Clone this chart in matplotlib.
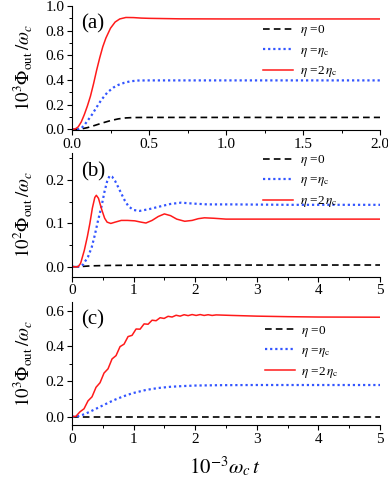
import numpy as np
import matplotlib
matplotlib.use("Agg")
import matplotlib.pyplot as plt
from matplotlib.ticker import MultipleLocator, FormatStrFormatter

plt.rcParams['font.family'] = ['Liberation Serif', 'DejaVu Serif']
plt.rcParams['mathtext.fontset'] = 'stix'

# panel (a)
t_a_black = [0, 0.05, 0.1, 0.15, 0.2, 0.25, 0.3, 0.35, 0.4, 0.5, 1.0, 2.0]
v_a_black = [0, 0.001, 0.014, 0.033, 0.053, 0.071, 0.085, 0.093, 0.096, 0.097, 0.097, 0.097]
t_a_blue = [0, 0.04, 0.06, 0.08, 0.1, 0.13, 0.16, 0.19, 0.23, 0.27, 0.3, 0.34, 0.38, 0.43, 0.5, 1.0, 2.0]
v_a_blue = [0, 0.0, 0.008, 0.035, 0.068, 0.12, 0.18, 0.238, 0.3, 0.34, 0.36, 0.378, 0.39, 0.396,
            0.397, 0.397, 0.397]
t_a_red = [0, 0.02, 0.04, 0.06, 0.08, 0.1, 0.12, 0.14, 0.16, 0.18, 0.2, 0.22, 0.25, 0.28, 0.31,
           0.35, 0.4, 0.45, 0.5, 0.7, 1.0, 1.5, 2.0]
v_a_red = [0, 0.003, 0.02, 0.06, 0.12, 0.19, 0.27, 0.37, 0.48, 0.58, 0.67, 0.74, 0.82, 0.87, 0.895,
           0.907, 0.906, 0.902, 0.9, 0.896, 0.895, 0.895, 0.895]

# panel (b)
t_b_black = [0, 0.1, 0.3, 0.6, 1.0, 2.0, 5.0]
v_b_black = [0, 0, 0.002, 0.003, 0.0035, 0.0038, 0.004]
t_b_blue = [0, 0.12, 0.18, 0.26, 0.32, 0.37, 0.42, 0.48, 0.53, 0.57, 0.61, 0.65, 0.7, 0.75, 0.8,
            0.86, 0.92, 1.0, 1.1, 1.25, 1.45, 1.6, 1.77, 1.95, 2.2, 2.6, 3.5, 5.0]
v_b_blue = [0, 0, 0.005, 0.023, 0.045, 0.073, 0.105, 0.14, 0.175, 0.197, 0.21, 0.208, 0.198,
            0.184, 0.169, 0.152, 0.139, 0.131, 0.129, 0.133, 0.14, 0.145, 0.148, 0.146, 0.144,
            0.144, 0.143, 0.143]
t_b_red = [0, 0.1, 0.14, 0.2, 0.25, 0.29, 0.33, 0.37, 0.395, 0.43, 0.48, 0.53, 0.57, 0.63, 0.7,
           0.8, 0.9, 1.02, 1.12, 1.2, 1.3, 1.4, 1.5, 1.6, 1.7, 1.83, 1.95, 2.05, 2.15, 2.3, 2.5,
           3.0, 4.0, 5.0]
v_b_red = [0, 0, 0.008, 0.038, 0.07, 0.1, 0.135, 0.16, 0.165, 0.158, 0.133, 0.112, 0.103, 0.1,
           0.103, 0.107, 0.107, 0.106, 0.103, 0.101, 0.107, 0.116, 0.122, 0.118, 0.11, 0.105,
           0.107, 0.111, 0.113, 0.112, 0.11, 0.11, 0.11, 0.11]

# panel (c)
t_c_black = [0, 5.0]
v_c_black = [0, 0]
t_c_blue = [0, 0.1, 0.2, 0.3, 0.4, 0.5, 0.6, 0.7, 0.8, 0.9, 1.0, 1.2, 1.4, 1.6, 1.8, 2.0, 2.4,
            3.0, 4.0, 5.0]
v_c_blue = [0, 0.003, 0.014, 0.03, 0.047, 0.064, 0.081, 0.097, 0.111, 0.124, 0.135, 0.152,
            0.163, 0.17, 0.174, 0.177, 0.179, 0.18, 0.18, 0.18]
t_c_red = [0, 0.065, 0.13, 0.195, 0.26, 0.325, 0.39, 0.455, 0.52, 0.585, 0.65, 0.715, 0.78,
           0.845, 0.91, 0.975, 1.04, 1.105, 1.17, 1.235, 1.3, 1.365, 1.43, 1.495, 1.56, 1.625,
           1.69, 1.755, 1.82, 1.885, 1.95, 2.015, 2.08, 2.145, 2.21, 2.275, 2.34, 2.6, 3.0, 3.5,
           4.0, 5.0]
v_c_red = [0, 0.003, 0.028, 0.045, 0.09, 0.113, 0.167, 0.193, 0.248, 0.272, 0.328, 0.347, 0.398,
           0.412, 0.455, 0.462, 0.498, 0.497, 0.527, 0.525, 0.548, 0.545, 0.562, 0.558, 0.570,
           0.566, 0.576, 0.571, 0.579, 0.574, 0.580, 0.575, 0.580, 0.575, 0.579, 0.575, 0.578,
           0.575, 0.571, 0.568, 0.566, 0.565]

labels = [r'$\eta$ =0', r'$\eta$ =$\eta_{\rm c}$', r'$\eta$ =2$\,\eta_{\rm c}$']

fig = plt.figure(figsize=(3.88, 4.84), dpi=100)
W, H = 388.0, 484.0


def make_ax(top, bottom):
    return fig.add_axes([72 / W, 1 - bottom / H, 308 / W, (bottom - top) / H])


panels = [
    dict(box=(6, 130), xlim=(0, 2), ylim=(-0.005, 1.0), xmaj=0.5, xmin=0.25, xfmt='%.1f',
         ymaj=0.2, ymin=0.1, ylabel=r'$10^3\Phi_{\rm out}\,/\omega_c$', tag='(a)',
         data=[(t_a_black, v_a_black), (t_a_blue, v_a_blue), (t_a_red, v_a_red)],
         leg=(0.62, 0.86)),
    dict(box=(153.3, 276.7), xlim=(0, 5), ylim=(-0.023, 0.262), xmaj=1, xmin=0.5, xfmt='%d',
         ymaj=0.1, ymin=0.05, ylabel=r'$10^2\Phi_{\rm out}\,/\omega_c$', tag='(b)',
         data=[(t_b_black, v_b_black), (t_b_blue, v_b_blue), (t_b_red, v_b_red)],
         leg=(0.62, 1.0)),
    dict(box=(301.7, 425), xlim=(0, 5), ylim=(-0.047, 0.653), xmaj=1, xmin=0.5, xfmt='%d',
         ymaj=0.2, ymin=0.1, ylabel=r'$10^3\Phi_{\rm out}\,/\omega_c$', tag='(c)',
         data=[(t_c_black, v_c_black), (t_c_blue, v_c_blue), (t_c_red, v_c_red)],
         leg=(0.625, 0.82)),
]

styles = [dict(color='black', ls=(0, (4, 2.5)), lw=1.2),
          dict(color='#3355ff', ls=(0, (1, 1.3)), lw=1.6),
          dict(color='#ff1a1a', ls='-', lw=1.1)]

for p in panels:
    ax = make_ax(*p['box'])
    for (t, v), st, lab in zip(p['data'], styles, labels):
        ax.plot(t, v, label=lab, **st)
    ax.set_xlim(*p['xlim'])
    ax.set_ylim(*p['ylim'])
    ax.spines['top'].set_visible(False)
    ax.spines['right'].set_visible(False)
    ax.xaxis.set_major_locator(MultipleLocator(p['xmaj']))
    ax.xaxis.set_minor_locator(MultipleLocator(p['xmin']))
    ax.xaxis.set_major_formatter(FormatStrFormatter(p['xfmt']))
    ax.yaxis.set_major_locator(MultipleLocator(p['ymaj']))
    ax.yaxis.set_minor_locator(MultipleLocator(p['ymin']))
    ax.yaxis.set_major_formatter(FormatStrFormatter('%.1f'))
    ax.tick_params(which='major', direction='out', length=3.5, width=0.8, labelsize=11, pad=2)
    ax.tick_params(which='minor', direction='out', length=2, width=0.7)
    ax.set_ylabel(p['ylabel'], fontsize=13.5)
    ax.yaxis.set_label_coords(-0.125, 0.5)
    ax.text(0.03, 0.93, p['tag'], transform=ax.transAxes, fontsize=15, va='top', ha='left')
    ax.legend(loc='upper left', bbox_to_anchor=p['leg'], frameon=False, fontsize=9.5,
              handlelength=2.3, handletextpad=0.5, labelspacing=0.45, borderpad=0,
              borderaxespad=0)

fig.text(225 / W, 1 - 467 / H, r'$10^{-3}\omega_c\, t$', fontsize=15, ha='center', va='center')

fig.savefig('out.png', dpi=100)
